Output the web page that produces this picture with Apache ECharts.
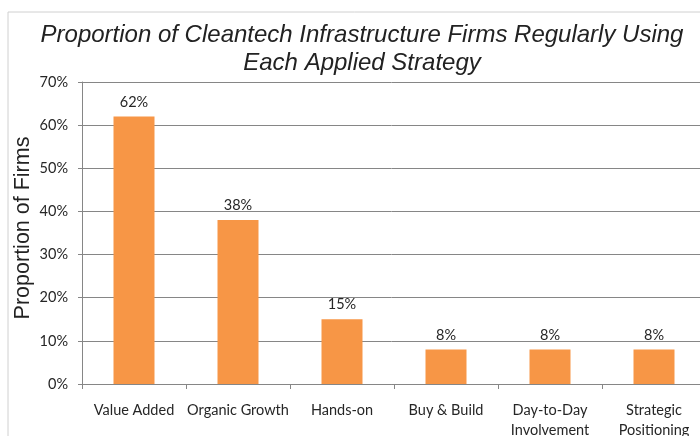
<!DOCTYPE html>
<html>
<head>
<meta charset="utf-8">
<script src="https://cdn.jsdelivr.net/npm/echarts@6/dist/echarts.min.js"></script>
<style>
  html, body { margin: 0; padding: 0; background: #fff; }
  #main { width: 700px; height: 436px; }
</style>
</head>
<body>
<div id="main"></div>
<script>
// 数据
const strategies = ['Value Added', 'Organic Growth', 'Hands-on', 'Buy & Build', 'Day-to-Day\nInvolvement', 'Strategic\nPositioning'];
const shares = [62, 38, 15, 8, 8, 8];
const yTicks = [0, 10, 20, 30, 40, 50, 60, 70];

const chart = echarts.init(document.getElementById('main'));

const option = {
  animation: false,
  backgroundColor: '#fff',
  // 外框
  graphic: [{
    type: 'rect',
    shape: { x: 8, y: 12, width: 720, height: 460 },
    style: { fill: 'none', stroke: '#d0d0d0', lineWidth: 1 },
    silent: true
  }],
  title: {
    text: 'Proportion of Cleantech Infrastructure Firms Regularly Using\nEach Applied Strategy',
    left: 357,
    textAlign: 'center',
    top: 16,
    textStyle: {
      fontFamily: 'Liberation Sans',
      fontStyle: 'italic',
      fontWeight: 'normal',
      fontSize: 24,
      lineHeight: 28,
      color: '#222'
    }
  },
  grid: {
    left: 82,
    right: -6,
    top: 82,
    bottom: 52,
    containLabel: false,
    outerBoundsMode: 'none'
  },
  xAxis: {
    type: 'category',
    data: strategies,
    axisLine: { lineStyle: { color: '#868686', width: 1 } },
    axisTick: { show: true, length: 5, lineStyle: { color: '#868686' } },
    axisLabel: {
      interval: 0,
      margin: 16,
      fontFamily: 'Lato',
      fontSize: 14.5,
      lineHeight: 20,
      color: '#262626'
    }
  },
  yAxis: {
    type: 'value',
    min: yTicks[0],
    max: yTicks[yTicks.length - 1],
    interval: 10,
    name: 'Proportion of Firms',
    nameLocation: 'middle',
    nameGap: 48,
    nameRotate: 90,
    nameMoveOverlap: false,
    nameTextStyle: {
      fontFamily: 'Liberation Sans',
      fontSize: 21.5,
      color: '#222',
      padding: [0, 0, 0, 10]
    },
    axisLine: { show: true, lineStyle: { color: '#868686' } },
    axisTick: { show: true, length: 4, lineStyle: { color: '#868686' } },
    splitLine: { lineStyle: { color: '#868686', width: 1 } },
    axisLabel: {
      formatter: '{value}%',
      margin: 14,
      fontFamily: 'Lato',
      fontSize: 14.5,
      color: '#262626'
    }
  },
  series: [{
    type: 'bar',
    data: shares,
    barWidth: 41,
    itemStyle: { color: '#F79646' },
    label: {
      show: true,
      position: 'top',
      distance: 7,
      formatter: '{c}%',
      fontFamily: 'Lato',
      fontSize: 14.5,
      color: '#262626'
    }
  }]
};

chart.setOption(option);
</script>
</body>
</html>
